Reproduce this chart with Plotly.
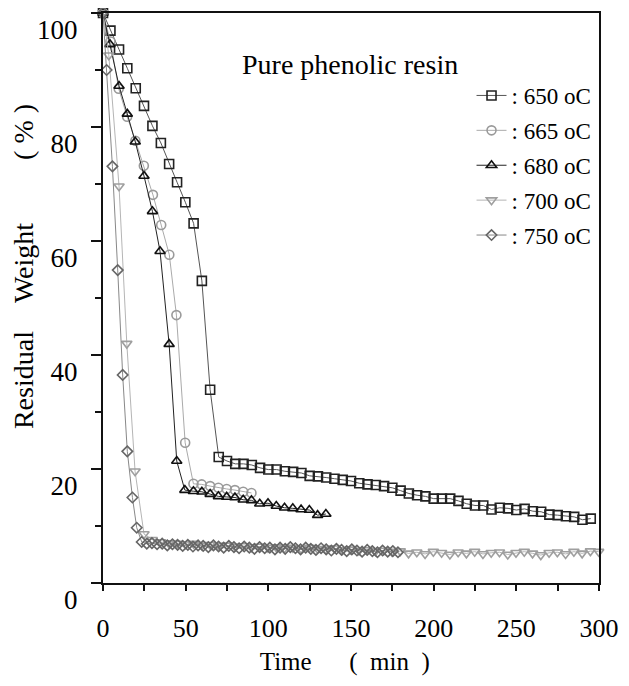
import plotly.graph_objects as go

# ---- data ----
t650 = [0, 4.5, 9.7, 14.7, 19.8, 24.8, 29.9, 35.0, 40.0, 44.8, 49.8, 54.8, 59.8, 64.8,
        70, 75, 80, 85, 90, 95, 100, 105, 110, 115, 120, 125, 130, 135, 140, 145, 150,
        155, 160, 165, 170, 175, 180, 185, 190, 195, 200, 205, 210, 215, 220, 225, 230,
        235, 240, 245, 250, 255, 260, 265, 270, 275, 280, 285, 290, 295]
w650 = [100, 96.9, 93.6, 90.3, 86.8, 83.7, 80.2, 77.2, 73.5, 70.3, 66.8, 63.1, 53.0, 33.9,
        22.1, 21.4, 20.9, 20.9, 20.7, 20.2, 19.9, 19.9, 19.6, 19.5, 19.3, 18.8, 18.7, 18.5,
        18.3, 18.1, 17.9, 17.5, 17.3, 17.2, 17.0, 16.7, 16.2, 15.7, 15.4, 15.2, 14.8, 14.8,
        14.8, 14.4, 13.9, 13.6, 13.6, 12.9, 13.2, 13.1, 12.8, 13.0, 12.6, 12.5, 12.0, 11.9,
        11.7, 11.6, 11.1, 11.3]

t665 = [0, 4.5, 9.5, 14.6, 19.6, 24.7, 30.2, 35.2, 40.1, 44.4, 49.7, 54.7, 59.7, 64.8,
        69.8, 74.8, 79.8, 84.8, 89.8]
w665 = [100, 95.0, 86.7, 81.8, 77.6, 73.2, 68.1, 62.8, 57.6, 47.0, 24.6, 17.4, 17.3, 17.0,
        16.7, 16.5, 16.3, 16.0, 15.8]

t680 = [0, 4.2, 9.7, 14.7, 19.5, 24.8, 29.9, 34.5, 40.0, 44.6, 49.5, 54.7, 59.8, 64.8,
        69.8, 74.8, 79.8, 84.8, 89.8, 94.8, 99.8, 104.8, 109.8, 114.8, 119.8, 124.8,
        129.8, 134.8]
w680 = [100, 94.5, 87.2, 82.3, 77.4, 71.4, 65.2, 58.2, 41.9, 21.4, 16.3, 16.1, 16.0, 15.6,
        15.2, 15.1, 15.0, 14.6, 14.5, 13.9, 14.0, 13.5, 13.2, 13.1, 12.9, 12.8, 11.9, 12.1]

t700 = [0, 3.5, 9.7, 14.4, 19.4, 24.8, 29.8, 34.8, 39.8, 44.8, 49.8, 54.8, 59.8, 64.8,
        69.8, 74.8, 79.8, 84.8, 89.8, 94.8, 99.8, 104.8, 109.8, 114.8, 119.8, 124.8,
        129.8, 134.8, 139.8, 144.8, 149.8, 154.8, 159.8, 164.8, 169.8, 174.8, 179.8,
        184.8, 189.8, 194.8, 199.8, 204.8, 209.8, 214.8, 219.8, 224.8, 229.8, 234.8,
        239.8, 244.8, 249.8, 254.8, 259.8, 264.8, 269.8, 274.8, 279.8, 284.8, 289.8,
        294.8, 299.8]
w700 = [100, 92.6, 69.6, 42.0, 19.6, 8.6, 7.6, 7.2, 7.0, 6.9, 6.8, 6.9, 6.6, 6.7, 6.5,
        6.6, 6.4, 6.5, 6.3, 6.4, 6.2, 6.3, 6.1, 6.2, 6.0, 6.2, 6.0, 5.9, 6.1, 5.8, 5.9,
        5.7, 5.8, 5.6, 5.7, 5.5, 5.6, 5.2, 5.4, 5.1, 5.5, 5.3, 5.0, 5.4, 5.2, 5.5, 5.1,
        5.3, 5.4, 5.0, 5.3, 5.5, 5.2, 4.9, 5.3, 5.4, 5.1, 5.5, 5.2, 5.6, 5.5]

t750 = [0, 2.2, 5.7, 8.9, 11.9, 14.7, 17.8, 20.4,
        23.4, 26.5, 29.6, 32.7, 35.8, 38.9, 42.0, 45.1, 48.2, 51.3, 54.4, 57.5, 60.6,
        63.7, 66.8, 69.9, 73.0, 76.1, 79.2, 82.3, 85.4, 88.5, 91.6, 94.7, 97.8, 100.9,
        104.0, 107.1, 110.2, 113.3, 116.4, 119.5, 122.6, 125.7, 128.8, 131.9, 135.0,
        138.1, 141.2, 144.3, 147.4, 150.5, 153.6, 156.7, 159.8, 162.9, 166.0, 169.1,
        172.2, 175.3, 178.4]
w750 = [100, 90.0, 73.1, 54.9, 36.5, 23.1, 15.0, 9.7,
        7.2, 6.9, 7.0, 6.8, 6.9, 6.6, 6.8, 6.7, 6.5, 6.7, 6.4, 6.6, 6.5, 6.3, 6.6, 6.4,
        6.2, 6.5, 6.3, 6.1, 6.4, 6.2, 6.0, 6.3, 6.1, 6.2, 5.9, 6.2, 6.0, 6.3, 6.1, 5.9,
        6.2, 6.0, 5.8, 6.1, 5.9, 5.7, 6.0, 5.8, 5.6, 5.9, 5.7, 5.5, 5.8, 5.6, 5.4, 5.7,
        5.5, 5.6, 5.4]

series_names = [": 650 oC", ": 665 oC", ": 680 oC", ": 700 oC", ": 750 oC"]
x_ticks = [0, 50, 100, 150, 200, 250, 300]
y_ticks = [0, 20, 40, 60, 80, 100]

# ---- styles ----
styles = [
    dict(symbol="square-open", mcolor="#222222", lcolor="#555555", size=9),
    dict(symbol="circle-open", mcolor="#9a9a9a", lcolor="#aaaaaa", size=9),
    dict(symbol="triangle-up-open", mcolor="#111111", lcolor="#222222", size=9),
    dict(symbol="triangle-down-open", mcolor="#9f9f9f", lcolor="#b5b5b5", size=9),
    dict(symbol="diamond-open", mcolor="#666666", lcolor="#888888", size=8),
]
data = [(t650, w650), (t665, w665), (t680, w680), (t700, w700), (t750, w750)]

fig = go.Figure()
for (tx, wy), name, st in zip(data, series_names, styles):
    fig.add_trace(go.Scatter(
        x=tx, y=wy, name=name, mode="lines+markers", legendgroup=name,
        line=dict(color=st["lcolor"], width=1),
        marker=dict(symbol=st["symbol"], size=st["size"], color=st["mcolor"],
                    line=dict(color=st["mcolor"], width=1.6)),
        cliponaxis=False,
    ))

FONT = "Liberation Serif"
NB = "&nbsp;"
fig.update_layout(
    width=621, height=678,
    margin=dict(l=95, r=30, t=5, b=103),
    plot_bgcolor="white", paper_bgcolor="white",
    font=dict(family=FONT, color="black"),
    showlegend=True,
    legend=dict(x=0.995, xanchor="right", y=0.893, yanchor="top",
                font=dict(family=FONT, size=23, color="black"),
                bgcolor="rgba(0,0,0,0)", tracegroupgap=2),
    annotations=[dict(text="Pure phenolic resin", x=0.498, y=0.909, xref="paper",
                      yref="paper", xanchor="center", yanchor="middle", showarrow=False,
                      font=dict(family=FONT, size=28, color="black"))],
)
fig.update_xaxes(
    range=[0, 300], tickvals=x_ticks, ticktext=[str(v) for v in x_ticks],
    showline=True, linewidth=2, linecolor="#111", mirror=True,
    ticks="outside", ticklen=6, tickwidth=1.5, tickcolor="#111",
    minor=dict(dtick=25, ticks="outside", ticklen=6, tickwidth=1.5, tickcolor="#111"),
    showgrid=False, zeroline=False, automargin=False,
    tickfont=dict(family=FONT, size=26), ticklabelstandoff=15,
    title=dict(text="Time" + NB * 6 + "(" + NB * 2 + "min" + NB * 2 + ")" + NB * 2,
               font=dict(family=FONT, size=25), standoff=10),
)
fig.update_yaxes(
    range=[0, 100], tickvals=y_ticks, ticktext=[str(v) for v in y_ticks],
    showline=True, linewidth=2, linecolor="#111", mirror=True,
    ticks="outside", ticklen=10, tickwidth=1.5, tickcolor="#111",
    minor=dict(dtick=10, ticks="outside", ticklen=6, tickwidth=1.5, tickcolor="#111"),
    showgrid=False, zeroline=False, automargin=False,
    tickfont=dict(family=FONT, size=27), ticklabelshift=17, ticklabelstandoff=8,
    title=dict(text=NB * 9 + "Residual" + NB * 4 + "Weight" + NB * 9 + "(" + NB + "%" + NB + ")",
               font=dict(family=FONT, size=28), standoff=9),
)

fig.write_html("out.html")
